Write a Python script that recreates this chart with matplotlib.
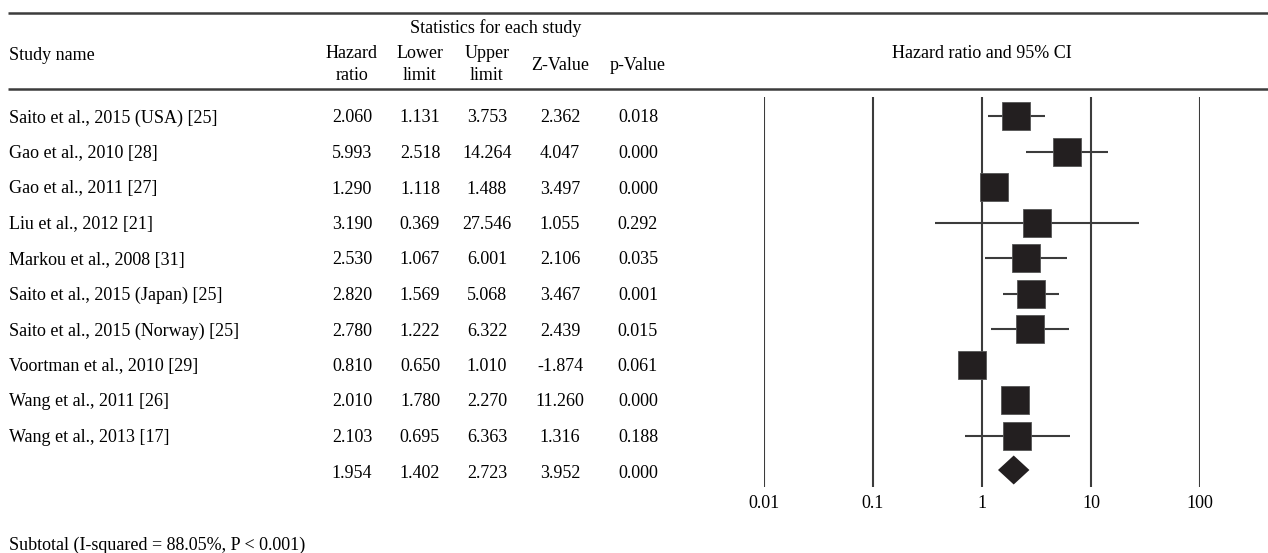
import matplotlib
matplotlib.use("Agg")
import matplotlib.pyplot as plt

matplotlib.rcParams['font.family'] = ['Liberation Serif', 'DejaVu Serif']

# study data
studies = ["Saito et al., 2015 (USA) [25]", "Gao et al., 2010 [28]", "Gao et al., 2011 [27]",
           "Liu et al., 2012 [21]", "Markou et al., 2008 [31]", "Saito et al., 2015 (Japan) [25]",
           "Saito et al., 2015 (Norway) [25]", "Voortman et al., 2010 [29]", "Wang et al., 2011 [26]",
           "Wang et al., 2013 [17]"]
hr = [2.060, 5.993, 1.290, 3.190, 2.530, 2.820, 2.780, 0.810, 2.010, 2.103]
lower = [1.131, 2.518, 1.118, 0.369, 1.067, 1.569, 1.222, 0.650, 1.780, 0.695]
upper = [3.753, 14.264, 1.488, 27.546, 6.001, 5.068, 6.322, 1.010, 2.270, 6.363]
zval = [2.362, 4.047, 3.497, 1.055, 2.106, 3.467, 2.439, -1.874, 11.260, 1.316]
pval = [0.018, 0.000, 0.000, 0.292, 0.035, 0.001, 0.015, 0.061, 0.000, 0.188]

# pooled estimate
pooled = {"hr": 1.954, "lower": 1.402, "upper": 2.723, "z": 3.952, "p": 0.000}
subtotal = "Subtotal (I-squared = 88.05%, P < 0.001)"
ticks = [0.01, 0.1, 1, 10, 100]
tick_labels = ["0.01", "0.1", "1", "10", "100"]

W, H = 1268, 553
fig = plt.figure(figsize=(W / 100, H / 100), dpi=100)

ax = fig.add_axes([0, 0, 1, 1])
ax.set_xlim(0, W)
ax.set_ylim(H, 0)
ax.axis('off')

axf = fig.add_axes([764 / W, 0, 436 / W, 1])
axf.set_xscale('log')
axf.set_xlim(0.01, 100)
axf.set_ylim(H, 0)
axf.axis('off')

fs = 13
ink = '#231f20'
rule = '#3c3c3c'

# header
ax.hlines([13, 89], 8, W, color=rule, lw=1.8)
ax.text(496, 28, "Statistics for each study", ha='center', va='center', fontsize=fs)
ax.text(9, 55, "Study name", ha='left', va='center', fontsize=fs)
cols = [352, 420, 487, 560, 638]
ax.text(cols[0], 53, "Hazard", ha='center', va='center', fontsize=fs)
ax.text(cols[0], 76, "ratio", ha='center', va='center', fontsize=fs)
ax.text(cols[1], 53, "Lower", ha='center', va='center', fontsize=fs)
ax.text(cols[1], 76, "limit", ha='center', va='center', fontsize=fs)
ax.text(cols[2], 53, "Upper", ha='center', va='center', fontsize=fs)
ax.text(cols[2], 76, "limit", ha='center', va='center', fontsize=fs)
ax.text(cols[3], 65, "Z-Value", ha='center', va='center', fontsize=fs)
ax.text(cols[4], 65, "p-Value", ha='center', va='center', fontsize=fs)
ax.text(982, 54, "Hazard ratio and 95% CI", ha='center', va='center', fontsize=fs)

y0, dy = 118, 35.5
rows_y = [y0 + dy * i for i in range(len(studies))]

for i, name in enumerate(studies):
    y = rows_y[i]
    ax.text(9, y, name, ha='left', va='center', fontsize=fs)
    vals = [hr[i], lower[i], upper[i], zval[i], pval[i]]
    for x, v in zip(cols, vals):
        ax.text(x, y, f"{v:.3f}", ha='center', va='center', fontsize=fs)

ys = len(studies)
y_pool = y0 + dy * ys
for x, v in zip(cols, [pooled["hr"], pooled["lower"], pooled["upper"], pooled["z"], pooled["p"]]):
    ax.text(x, y_pool, f"{v:.3f}", ha='center', va='center', fontsize=fs)

ax.text(9, 545, subtotal, ha='left', va='center', fontsize=fs)

# forest panel
axf.vlines(ticks, 97, 487, color=rule, lw=1.5)
for t, lab in zip(ticks, tick_labels):
    axf.text(t, 504, lab, ha='center', va='center', fontsize=fs)

for i in range(len(studies)):
    y = rows_y[i] - 2
    axf.hlines(y, lower[i], upper[i], color=rule, lw=1.5)
    axf.plot(hr[i], y, marker='s', ms=20, color=ink, mec='#555555', mew=0.6, ls='none')

yp = y_pool - 3
h = 14.5
axf.fill([pooled["lower"], pooled["hr"], pooled["upper"], pooled["hr"]],
         [yp, yp - h, yp, yp + h], color=ink, lw=0)

fig.savefig("out.png", dpi=100)
